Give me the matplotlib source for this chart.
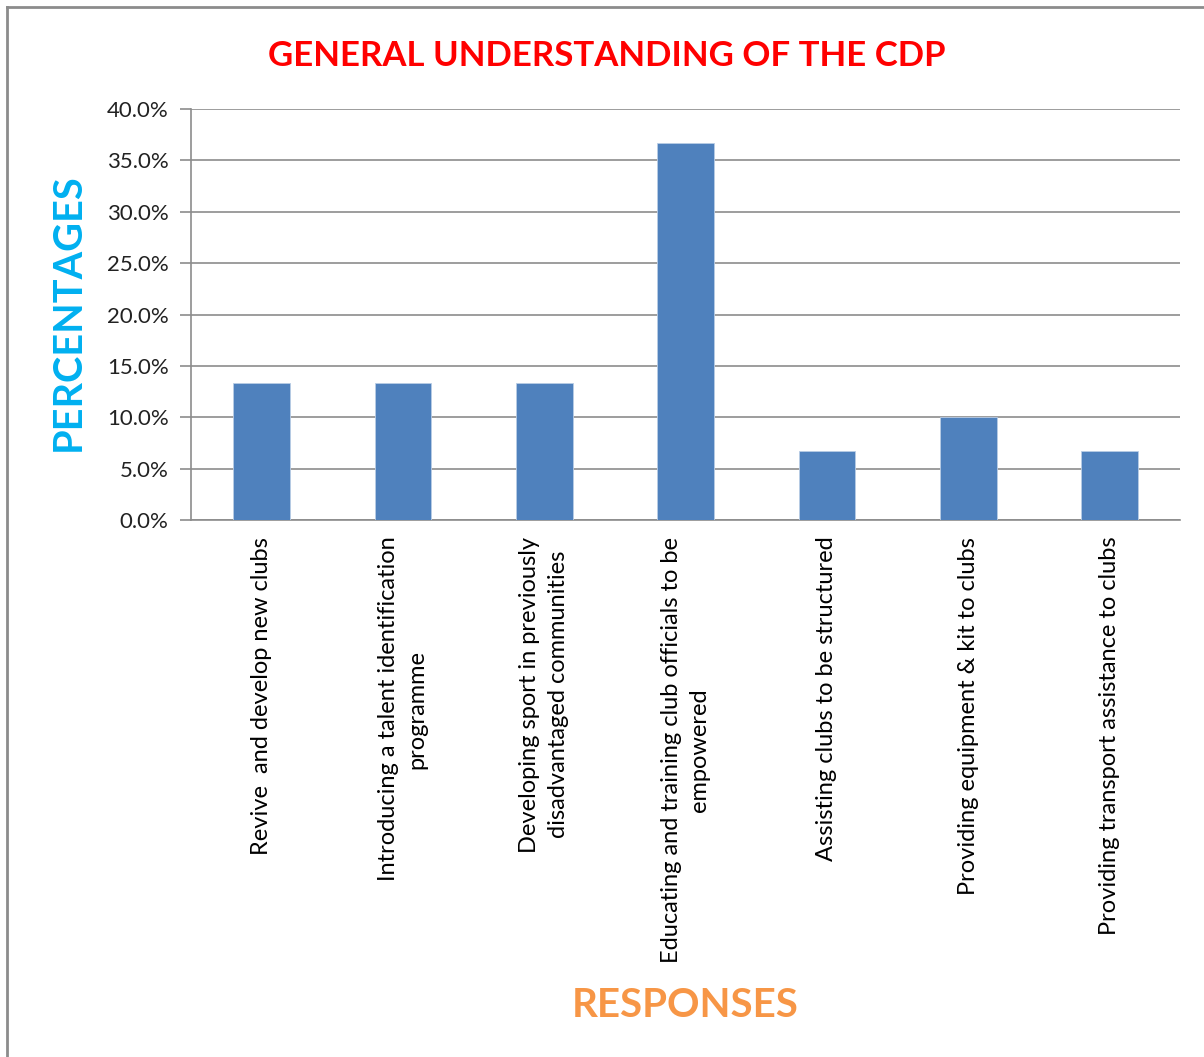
import matplotlib.pyplot as plt
from matplotlib.lines import Line2D
from matplotlib.ticker import FuncFormatter

plt.rcParams['font.family'] = ['Lato', 'DejaVu Sans']

# survey responses, share of respondents
categories = [
    "Revive  and develop new clubs",
    "Introducing a talent identification\nprogramme",
    "Developing sport in previously\ndisadvantaged communities",
    "Educating and training club officials to be\nempowered",
    "Assisting clubs to be structured",
    "Providing equipment & kit to clubs",
    "Providing transport assistance to clubs",
]
percentages = [13.3, 13.3, 13.3, 36.7, 6.7, 10.0, 6.7]
y_ticks = [0, 5, 10, 15, 20, 25, 30, 35, 40]

fig = plt.figure(figsize=(12.04, 10.57), dpi=100)
ax = fig.add_axes([0.1586, 0.508, 0.8217, 0.3888])

x = range(len(categories))
ax.bar(x, percentages, width=0.4, color="#4F81BD", edgecolor="#B9CDE5",
       linewidth=0.6, zorder=3)

ax.set_xlim(-0.5, len(categories) - 0.5)
ax.set_ylim(0, 40)
ax.set_yticks(y_ticks)
ax.yaxis.set_major_formatter(FuncFormatter(lambda v, p: "%.1f%%" % v))
ax.grid(axis="y", color="#8C8C8C", linewidth=1.2, zorder=0)

ax.set_xticks(list(x))
ax.set_xticklabels(categories, rotation=90, ha="center", va="top",
                   multialignment="center", fontsize=17, linespacing=1.45)
ax.tick_params(axis="x", length=0, pad=12)
ax.tick_params(axis="y", length=8, width=1.2, color="#8C8C8C",
               labelsize=16, pad=8, labelcolor="#222222")

for side in ["top", "right"]:
    ax.spines[side].set_visible(False)
ax.spines["left"].set_color("#8C8C8C")
ax.spines["bottom"].set_color("#8C8C8C")
ax.spines["left"].set_linewidth(1.2)
ax.spines["bottom"].set_linewidth(1.2)

fig.text(0.504, 0.947, "GENERAL UNDERSTANDING OF THE CDP", color="#FF0000",
         fontsize=25, fontweight="bold", ha="center", va="center")
fig.text(0.057, 0.705, "PERCENTAGES", color="#00B0F0", fontsize=28.5,
         fontweight="bold", rotation=90, ha="center", va="center")
fig.text(0.569, 0.049, "RESPONSES", color="#F79646", fontsize=29,
         fontweight="bold", ha="center", va="center")

# outer frame of the chart area
fig.add_artist(Line2D([0.0058, 0.0058], [0.0, 0.9934], color="#8C8C8C",
                      linewidth=2, transform=fig.transFigure))
fig.add_artist(Line2D([0.0058, 1.0], [0.9934, 0.9934], color="#8C8C8C",
                      linewidth=2, transform=fig.transFigure))

fig.savefig("out.png", dpi=100)
